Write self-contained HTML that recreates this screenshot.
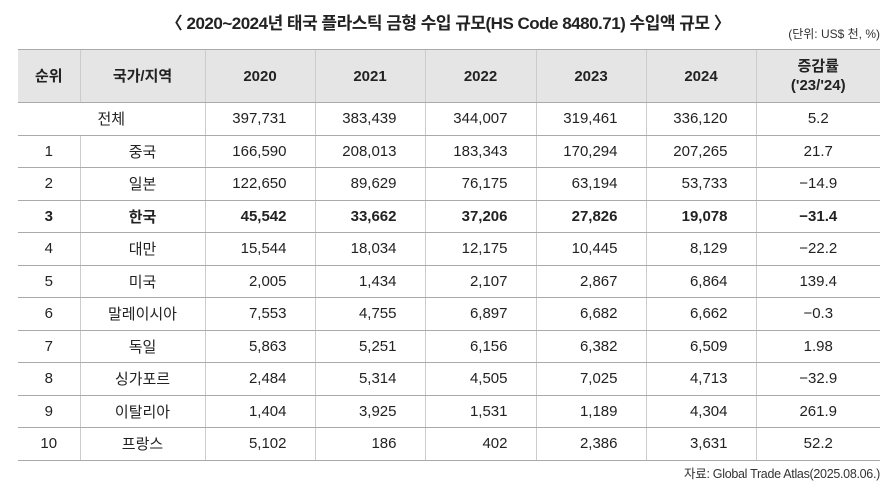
<!DOCTYPE html>
<html><head><meta charset="utf-8"><style>
body{margin:0;width:896px;height:492px;background:#fff;font-family:"Liberation Sans","Noto Sans CJK KR",sans-serif;color:#222;position:relative;overflow:hidden}
.title{position:absolute;top:9px;left:0;width:896px;text-align:center;font-size:17px;font-weight:bold;letter-spacing:-0.5px}
.unit{position:absolute;top:25px;right:16px;font-size:12px;color:#333}
.src{position:absolute;top:463px;right:16px;font-size:12.5px;color:#333;letter-spacing:-0.3px}
table{position:absolute;left:18px;top:49px;border-collapse:collapse;font-size:15px;table-layout:fixed}
th{background:#e5e5e5;font-weight:bold;height:52px;border-top:1px solid #aaa;border-bottom:1px solid #aaa;border-left:1px solid #ccc;padding:0;line-height:19px}
td{height:31.5px;padding:0;border-bottom:1px solid #aaa;border-left:1px solid #ccc;text-align:center}
th:first-child,td:first-child{border-left:none}
td.n{text-align:right;padding-right:28px}
tr.b td{font-weight:bold}
</style></head><body>
<div class="title">〈 2020~2024년 태국 플라스틱 금형 수입 규모(HS Code 8480.71) 수입액 규모 〉</div>
<div class="unit">(단위: US$ 천, %)</div>
<table>
<colgroup><col style="width:62px"><col style="width:125px"><col style="width:110px"><col style="width:110px"><col style="width:111px"><col style="width:110px"><col style="width:110px"><col style="width:124px"></colgroup>
<tr><th>순위</th><th>국가/지역</th><th>2020</th><th>2021</th><th>2022</th><th>2023</th><th>2024</th><th>증감률<br>('23/'24)</th></tr>
<tr><td colspan="2">전체</td><td class="n">397,731</td><td class="n">383,439</td><td class="n">344,007</td><td class="n">319,461</td><td class="n">336,120</td><td>5.2</td></tr>
<tr><td>1</td><td>중국</td><td class="n">166,590</td><td class="n">208,013</td><td class="n">183,343</td><td class="n">170,294</td><td class="n">207,265</td><td>21.7</td></tr>
<tr><td>2</td><td>일본</td><td class="n">122,650</td><td class="n">89,629</td><td class="n">76,175</td><td class="n">63,194</td><td class="n">53,733</td><td>−14.9</td></tr>
<tr class="b"><td>3</td><td>한국</td><td class="n">45,542</td><td class="n">33,662</td><td class="n">37,206</td><td class="n">27,826</td><td class="n">19,078</td><td>−31.4</td></tr>
<tr><td>4</td><td>대만</td><td class="n">15,544</td><td class="n">18,034</td><td class="n">12,175</td><td class="n">10,445</td><td class="n">8,129</td><td>−22.2</td></tr>
<tr><td>5</td><td>미국</td><td class="n">2,005</td><td class="n">1,434</td><td class="n">2,107</td><td class="n">2,867</td><td class="n">6,864</td><td>139.4</td></tr>
<tr><td>6</td><td>말레이시아</td><td class="n">7,553</td><td class="n">4,755</td><td class="n">6,897</td><td class="n">6,682</td><td class="n">6,662</td><td>−0.3</td></tr>
<tr><td>7</td><td>독일</td><td class="n">5,863</td><td class="n">5,251</td><td class="n">6,156</td><td class="n">6,382</td><td class="n">6,509</td><td>1.98</td></tr>
<tr><td>8</td><td>싱가포르</td><td class="n">2,484</td><td class="n">5,314</td><td class="n">4,505</td><td class="n">7,025</td><td class="n">4,713</td><td>−32.9</td></tr>
<tr><td>9</td><td>이탈리아</td><td class="n">1,404</td><td class="n">3,925</td><td class="n">1,531</td><td class="n">1,189</td><td class="n">4,304</td><td>261.9</td></tr>
<tr><td>10</td><td>프랑스</td><td class="n">5,102</td><td class="n">186</td><td class="n">402</td><td class="n">2,386</td><td class="n">3,631</td><td>52.2</td></tr>
</table>
<div class="src">자료: Global Trade Atlas(2025.08.06.)</div>
</body></html>
